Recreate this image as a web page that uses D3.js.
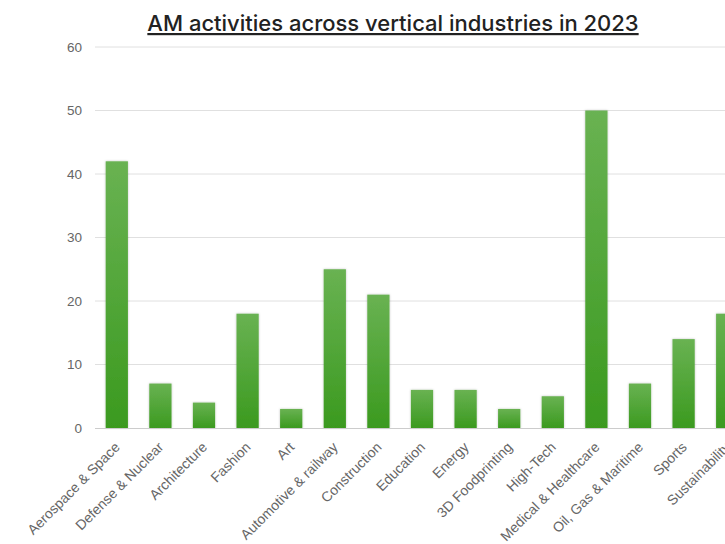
<!DOCTYPE html>
<html>
<head>
<meta charset="utf-8">
<script src="https://cdn.jsdelivr.net/npm/d3@7"></script>
<style>
  html, body { margin: 0; padding: 0; background: #fff; overflow: hidden; }
  svg { display: block; }
</style>
</head>
<body>
<div id="chart"></div>
<script>
// ---- data ----
const industries = [
  'Aerospace & Space', 'Defense & Nuclear', 'Architecture', 'Fashion', 'Art',
  'Automotive & railway', 'Construction', 'Education', 'Energy', '3D Foodprinting',
  'High-Tech', 'Medical & Healthcare', 'Oil, Gas & Maritime', 'Sports', 'Sustainability'
];
const activities = [42, 7, 4, 18, 3, 25, 21, 6, 6, 3, 5, 50, 7, 14, 18];
const yTicks = [0, 10, 20, 30, 40, 50, 60];

const W = 725, H = 544;
const plotLeft = 95, plotTop = 47, plotBottom = 428;
const step = 43.6;

const svg = d3.select('#chart').append('svg')
  .attr('width', W).attr('height', H);

const defs = svg.append('defs');
const grad = defs.append('linearGradient')
  .attr('id', 'barGrad').attr('x1', 0).attr('y1', 0).attr('x2', 0).attr('y2', 1);
grad.append('stop').attr('offset', '0%').attr('stop-color', '#69b252');
grad.append('stop').attr('offset', '100%').attr('stop-color', '#3b9a1f');

const shadow = defs.append('filter').attr('id', 'shadow')
  .attr('x', '-20%').attr('y', '-5%').attr('width', '140%').attr('height', '110%');
shadow.append('feDropShadow').attr('dx', 0).attr('dy', 0).attr('stdDeviation', 1)
  .attr('flood-color', '#000').attr('flood-opacity', 0.25);

const x = d3.scaleBand()
  .domain(industries)
  .range([plotLeft, plotLeft + step * industries.length])
  .paddingInner(0.49).paddingOuter(0.245);

const y = d3.scaleLinear().domain([0, 60]).range([plotBottom, plotTop]);

// gridlines
svg.append('g')
  .selectAll('line')
  .data(yTicks.filter(d => d > 0))
  .join('line')
  .attr('x1', plotLeft).attr('x2', W)
  .attr('y1', d => y(d)).attr('y2', d => y(d))
  .attr('stroke', '#e0e0e0').attr('stroke-width', 1);

// y labels
svg.append('g')
  .selectAll('text')
  .data(yTicks)
  .join('text')
  .attr('x', 82).attr('y', d => y(d))
  .attr('dy', '0.35em')
  .attr('text-anchor', 'end')
  .attr('font-family', 'Liberation Sans, Arial, sans-serif')
  .attr('font-size', 13.5)
  .attr('fill', '#666')
  .text(d => d);

// bars
svg.append('g')
  .selectAll('rect')
  .data(activities)
  .join('rect')
  .attr('x', (d, i) => x(industries[i]))
  .attr('y', d => y(d))
  .attr('width', x.bandwidth())
  .attr('height', d => plotBottom - y(d))
  .attr('fill', 'url(#barGrad)')
  .attr('filter', 'url(#shadow)');

// baseline
svg.append('line')
  .attr('x1', plotLeft).attr('x2', W)
  .attr('y1', plotBottom + 0.5).attr('y2', plotBottom + 0.5)
  .attr('stroke', '#cccccc').attr('stroke-width', 1);

// x labels
svg.append('g')
  .selectAll('text')
  .data(industries)
  .join('text')
  .attr('transform', d => `translate(${x(d) + x.bandwidth() / 2 + 4},${plotBottom + 20}) rotate(-45)`)
  .attr('text-anchor', 'end')
  .attr('font-family', 'Liberation Sans, Arial, sans-serif')
  .attr('font-size', 14)
  .attr('fill', '#666')
  .text(d => d);

// title
svg.append('text')
  .attr('x', 393).attr('y', 31)
  .attr('text-anchor', 'middle')
  .attr('font-family', 'Inter, sans-serif')
  .attr('font-size', 22)
  .attr('font-weight', 500)
  .attr('fill', '#222')
  .attr('text-decoration', 'underline')
  .text('AM activities across vertical industries in 2023');
</script>
</body>
</html>
